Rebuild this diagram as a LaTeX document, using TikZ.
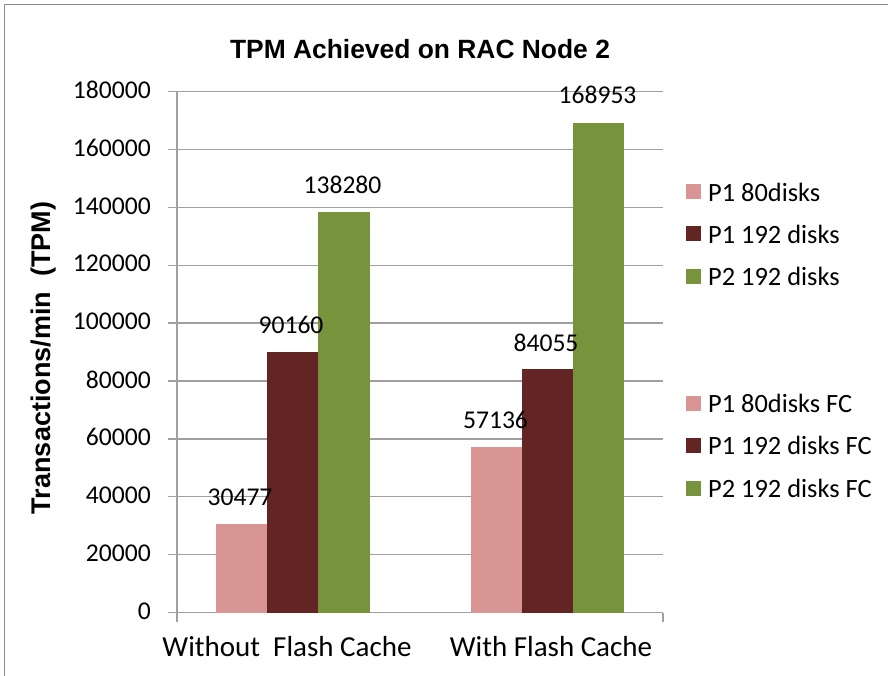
\documentclass[tikz,border=0pt]{standalone}
\usepackage{fontspec}
\setmainfont{Carlito}
\newfontfamily\titlefont{Liberation Sans}
\definecolor{pinkbar}{HTML}{D99594}
\definecolor{redbar}{HTML}{632523}
\definecolor{greenbar}{HTML}{77933C}
\definecolor{gridgray}{HTML}{A0A0A0}

\begin{document}
\begin{tikzpicture}[x=1pt,y=-1pt,
    grid/.style={gridgray,line width=1.4pt},
    tick/.style={anchor=east,inner sep=0pt,font=\fontsize{25.6}{28}\selectfont},
    val/.style={inner sep=0pt,font=\fontsize{25.6}{28}\selectfont},
    cat/.style={inner sep=0pt,font=\fontsize{29}{32}\selectfont},
    legtext/.style={anchor=west,inner sep=0pt,font=\fontsize{26.4}{29}\selectfont},
    legbox/.style={minimum size=15pt,inner sep=0pt}]
  \useasboundingbox (0,0) rectangle (888,676);
  \draw [gray!90,line width=1pt] (4,676) -- (4,5) -- (888,5);

  \node (title) at (420,49) {\titlefont\bfseries\fontsize{26.4}{29}\selectfont TPM Achieved on RAC Node 2};
  \node (ytitle) [rotate=90,inner sep=0pt] at (44,358) {\titlefont\bfseries\fontsize{27}{30}\selectfont Transactions/min\ \ (TPM)};

  % grid lines and tick labels
  \draw [grid] (168,91.5) -- (663,91.5);
  \draw [grid] (168,149.4) -- (663,149.4);
  \draw [grid] (168,207.3) -- (663,207.3);
  \draw [grid] (168,265.2) -- (663,265.2);
  \draw [grid] (168,323.1) -- (663,323.1);
  \draw [grid] (168,380.9) -- (663,380.9);
  \draw [grid] (168,438.8) -- (663,438.8);
  \draw [grid] (168,496.7) -- (663,496.7);
  \draw [grid] (168,554.6) -- (663,554.6);
  \draw [grid] (168,612.5) -- (663,612.5);
  \draw [grid] (177,91.5) -- (177,621.5);
  \draw [grid] (663,612.5) -- (663,621.5);

  \node (t180) [tick] at (151,90) {180000};
  \node (t160) [tick] at (151,147.9) {160000};
  \node (t140) [tick] at (151,205.8) {140000};
  \node (t120) [tick] at (151,263.7) {120000};
  \node (t100) [tick] at (151,321.6) {100000};
  \node (t80) [tick] at (151,379.4) {80000};
  \node (t60) [tick] at (151,437.3) {60000};
  \node (t40) [tick] at (151,495.2) {40000};
  \node (t20) [tick] at (151,553.1) {20000};
  \node (t0) [tick] at (151,611) {0};

  % bars
  \fill [pinkbar] (215.5,612.5) rectangle (266.5,524.3);
  \fill [redbar] (266.5,612.5) rectangle (318,351.5);
  \fill [greenbar] (318,612.5) rectangle (369.5,212.3);
  \fill [pinkbar] (470.5,612.5) rectangle (522,447.1);
  \fill [redbar] (522,612.5) rectangle (572.5,369.2);
  \fill [greenbar] (572.5,612.5) rectangle (624,123.5);

  \node (v1) [val] at (240,497.5) {30477};
  \node (v2) [val] at (291,324.5) {90160};
  \node (v3) [val] at (342.5,185) {138280};
  \node (v4) [val] at (495.5,420) {57136};
  \node (v5) [val] at (546,343) {84055};
  \node (v6) [val] at (597.5,94.5) {168953};

  \node (c1) [cat] at (287,647) {Without\ \ Flash Cache};
  \node (c2) [cat] at (551,647) {With Flash Cache};

  % legend
  \node (k1) [legbox,fill=pinkbar] at (693.5,192) {};
  \node (l1) [legtext] at (708,192) {P1 80disks};
  \node (k2) [legbox,fill=redbar] at (693.5,234) {};
  \node (l2) [legtext] at (708,234) {P1 192 disks};
  \node (k3) [legbox,fill=greenbar] at (693.5,276) {};
  \node (l3) [legtext] at (708,276) {P2 192 disks};
  \node (k4) [legbox,fill=pinkbar] at (693.5,403) {};
  \node (l4) [legtext] at (708,403) {P1 80disks FC};
  \node (k5) [legbox,fill=redbar] at (693.5,445) {};
  \node (l5) [legtext] at (708,445) {P1 192 disks FC};
  \node (k6) [legbox,fill=greenbar] at (693.5,488) {};
  \node (l6) [legtext] at (708,488) {P2 192 disks FC};
\end{tikzpicture}
\end{document}
